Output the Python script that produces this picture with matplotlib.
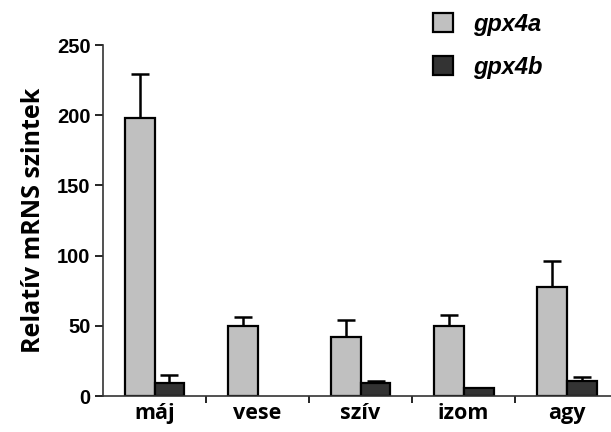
import numpy as np
import matplotlib.pyplot as plt

# tissues
tissues = ['máj', 'vese', 'szív', 'izom', 'agy']

# relative mRNA levels
gpx4a = [198, 50, 42, 50, 78]
gpx4a_err = [31, 6, 12, 8, 18]
gpx4b = [9, 0, 9.5, 5.4, 11]
gpx4b_err = [6, 0, 1.2, 0, 2.3]

fig = plt.figure(figsize=(6.11, 4.32), dpi=100)
ax = fig.add_axes([0.1686, 0.0833, 0.8314, 0.8125])

x = np.arange(len(tissues))
w = 0.29

bars_a = ax.bar(x - w / 2, gpx4a, w, color='#c0c0c0', edgecolor='black',
                linewidth=1.6, zorder=2)
# empty bar (value 0) gets no outline
edges = ['black' if v > 0 else 'none' for v in gpx4b]
bars_b = ax.bar(x + w / 2, gpx4b, w, color='#333333', edgecolor=edges,
                linewidth=1.6, zorder=2)

# upper error bars only
zeros = [0] * len(tissues)
ax.errorbar(x - w / 2, gpx4a, yerr=[zeros, gpx4a_err], fmt='none', ecolor='black',
            elinewidth=1.8, capsize=6.5, capthick=1.8, zorder=1)
bx = [xi + w / 2 for xi, e in zip(x, gpx4b_err) if e > 0]
by = [v for v, e in zip(gpx4b, gpx4b_err) if e > 0]
be = [e for e in gpx4b_err if e > 0]
ax.errorbar(bx, by, yerr=[[0] * len(be), be], fmt='none', ecolor='black',
            elinewidth=1.8, capsize=6.5, capthick=1.8, zorder=1)

ax.set_xlim(-0.5, 4.43)
ax.set_ylim(0, 250)
ax.set_yticks([0, 50, 100, 150, 200, 250])
ax.set_yticklabels(['0', '50', '100', '150', '200', '250'],
                   fontfamily='Liberation Sans', fontweight='bold', fontsize=14.5)

# category labels at centres, tick marks at boundaries
ax.set_xticks(x)
ax.set_xticklabels(tissues, fontfamily='Open Sans', fontweight='bold', fontsize=15.5)
ax.tick_params(axis='x', which='major', length=0, pad=5)
ax.set_xticks(x[:-1] + 0.5, minor=True)
ax.tick_params(axis='x', which='minor', length=5, width=1.2, direction='out')
ax.tick_params(axis='y', length=6, width=1.2, direction='out', pad=3)

for s in ['top', 'right']:
    ax.spines[s].set_visible(False)
for s in ['left', 'bottom']:
    ax.spines[s].set_linewidth(1.2)
    ax.spines[s].set_color('#333333')

ax.set_ylabel('Relatív mRNS szintek', fontfamily='Open Sans', fontweight='bold',
              fontsize=18, labelpad=8)

fig.legend([bars_a.patches[0], bars_b.patches[0]], ['gpx4a', 'gpx4b'],
           loc='upper left', bbox_to_anchor=(433 / 611, 1 - 13 / 432),
           frameon=False, borderpad=0, borderaxespad=0,
           prop={'family': 'Liberation Sans', 'weight': 'bold', 'style': 'italic',
                 'size': 17},
           handlelength=0.85, handleheight=0.85, handletextpad=0.85,
           labelspacing=0.85)

plt.savefig('out.png', dpi=100)
